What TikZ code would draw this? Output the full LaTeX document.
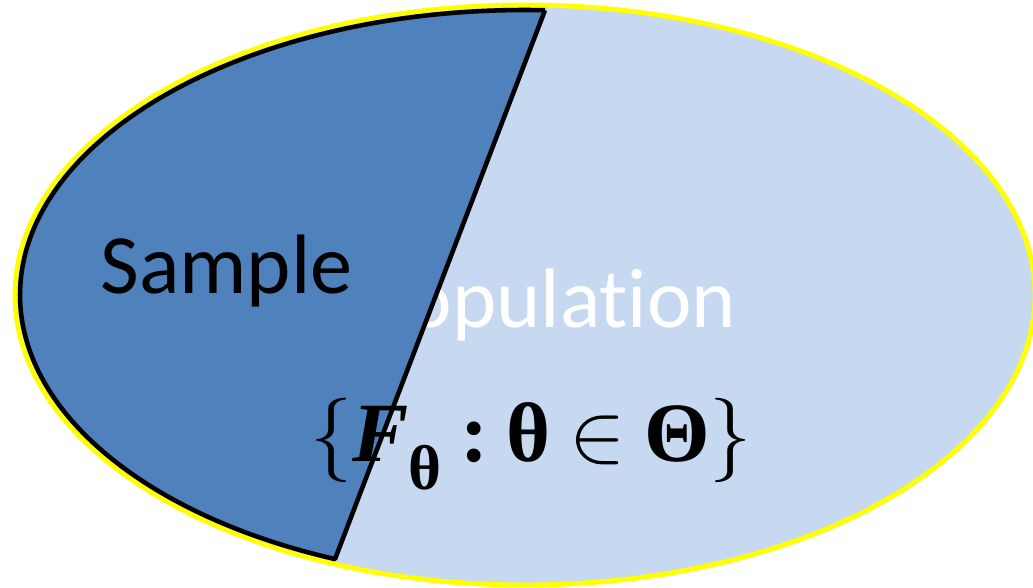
\RequirePackage{fix-cm}
\documentclass[tikz,border=0pt]{standalone}
\usepackage{amsmath}
\usepackage{fontspec}
\newfontfamily\calfont[Ligatures=NoCommon]{Carlito}
\newfontfamily\timesfont{Liberation Serif}
\usetikzlibrary{positioning,shapes.geometric}
\definecolor{popC}{HTML}{C6D9F1}
\definecolor{sampC}{HTML}{4F81BD}
\definecolor{rimC}{HTML}{FFFF00}
\newcommand{\gap}{\hspace{0.22em}}

\begin{document}
\begin{tikzpicture}[
  setbox/.style={ellipse, draw=rimC, fill=popC, line width=2.8pt,
                 minimum width=20.4cm, minimum height=11.6cm, inner sep=0pt},
  setlbl/.style={font=\calfont\fontsize{48}{52}\selectfont, inner sep=0pt,
                 anchor=base},
]
\useasboundingbox (0,0) rectangle (20.66,-11.74);

% ── Population set ──
\node[setbox] (pop) at (10.5,-5.9) {};
\node[setlbl, text=white] (poplbl) at (11.02,-6.54) {Population};

% ── Sample region (left part of the set) ──
\coordinate (c) at (10.5,-5.9);
\coordinate (top) at ([shift={(87.73:10.1 and 5.7)}]c);
\draw[fill=sampC, line width=2.6pt, line join=round]
  (top) arc[start angle=87.73, end angle=247.9, x radius=10.1, y radius=5.7]
  coordinate (bot) -- (top);
\node[setlbl, text=black] (samplbl) at (4.53,-5.86) {Sample};

% ── Family of distributions ──
\node[font=\timesfont\fontsize{48}{52}\selectfont, inner sep=0pt,
      anchor=base] (fam) at (10.62,-9.22)
  {$\{$\textbf{\textit{F}}\raisebox{-0.34em}{\fontsize{36}{40}\selectfont\textbf{θ}}\gap
   \textbf{:}\gap\textbf{θ}\gap$\in$\gap\textbf{Θ}$\}$};
\end{tikzpicture}
\end{document}
